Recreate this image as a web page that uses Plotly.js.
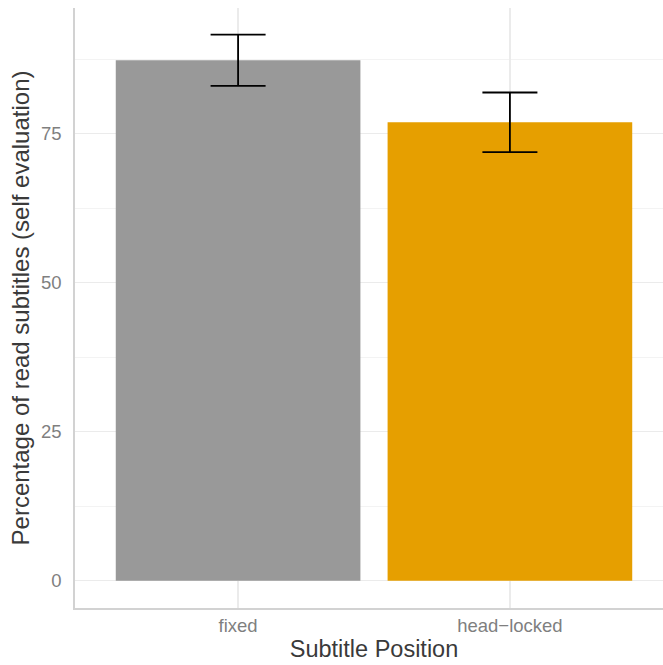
<!DOCTYPE html>
<html>
<head>
<meta charset="utf-8">
<script src="https://cdn.plot.ly/plotly-3.0.1.min.js"></script>
<style>html,body{margin:0;padding:0;background:#fff;overflow:hidden;}#chart{width:673px;height:665px;}</style>
</head>
<body>
<div id="chart"></div>
<script>
var categories = ["fixed", "head\u2212locked"];
var values = [87.3, 76.9];
var errors = [4.3, 5.0];
var barColors = ["#999999", "#E69F00"];
var yTicks = [0, 25, 50, 75];

var trace = {
  type: "bar",
  x: categories,
  y: values,
  width: 0.9,
  marker: {color: barColors, line: {width: 0}},
  error_y: {type: "data", array: errors, visible: true, color: "#000000", thickness: 1.8, width: 27.5},
  hoverinfo: "none"
};

var layout = {
  width: 673, height: 665,
  margin: {l: 75, r: 0, t: 8, b: 57},
  paper_bgcolor: "#ffffff", plot_bgcolor: "#ffffff",
  font: {family: "Liberation Sans, Arial, sans-serif"},
  showlegend: false,
  bargap: 0.1,
  xaxis: {
    range: [-0.6, 1.6],
    showgrid: true, gridcolor: "#ebebeb", gridwidth: 1.5,
    showline: true, linecolor: "#d2d2d2", linewidth: 1.8,
    ticks: "", ticklabelstandoff: 0,
    tickfont: {size: 18.5, color: "#7f7f7f"},
    zeroline: false, fixedrange: true, automargin: false,
    title: {text: "Subtitle Position", font: {size: 23.5, color: "#3a3a3a"}, standoff: 2}
  },
  yaxis: {
    range: [-4.575, 96.075],
    tickvals: yTicks, ticktext: yTicks.map(String),
    showgrid: true, gridcolor: "#ebebeb", gridwidth: 1.5,
    minor: {tickvals: [12.5, 37.5, 62.5, 87.5], showgrid: true, gridcolor: "#f3f3f3", gridwidth: 1, ticks: ""},
    showline: true, linecolor: "#d2d2d2", linewidth: 1.8,
    ticks: "", ticklabelstandoff: 8,
    tickfont: {size: 18.5, color: "#7f7f7f"},
    zeroline: false, fixedrange: true, automargin: false,
    title: {text: "Percentage of read subtitles (self evaluation)", font: {size: 24, color: "#3a3a3a"}, standoff: 4}
  }
};

Plotly.newPlot("chart", [trace], layout, {displayModeBar: false, staticPlot: true});
</script>
</body>
</html>
